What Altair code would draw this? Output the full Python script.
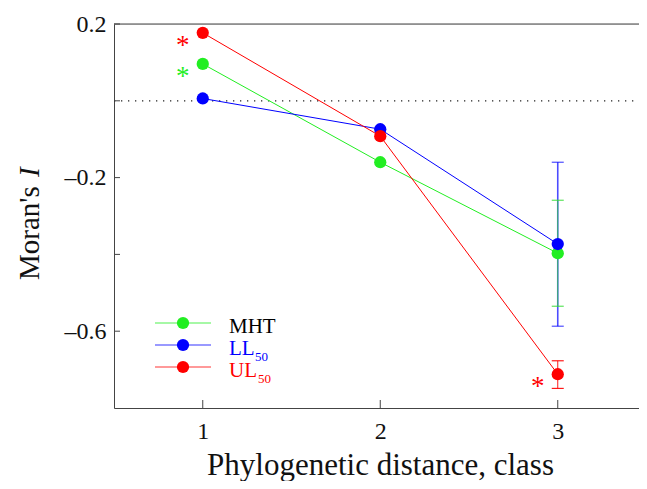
import altair as alt
import pandas as pd

# ---- data ----
classes = [1, 2, 3]
series_names = ["MHT", "LL50", "UL50"]
series_colors = ["#22ee22", "#0000ff", "#ff0000"]
mht = [0.096, -0.160, -0.397]
ll50 = [0.006, -0.074, -0.373]
ul50 = [0.177, -0.092, -0.712]

# error bars at class 3
err_class = [3, 3, 3]
err_series = ["MHT", "LL50", "UL50"]
err_lo = [-0.535, -0.587, -0.749]
err_hi = [-0.259, -0.160, -0.677]

# significance asterisks
sig_class = [1, 1, 3]
sig_series = ["MHT", "UL50", "UL50"]

ytick_vals = [0.2, 0.0, -0.2, -0.4, -0.6]
ylabel_vals = [0.2, -0.2, -0.6]
xtick_vals = [1, 2, 3]

legend_main = ["MHT", "LL", "UL"]
legend_sub = ["", "50", "50"]
legend_text_colors = ["#000000", "#0000ff", "#ff0000"]

W, H = 525, 384
FONT = "Liberation Serif"

rows = []
for name, vals in zip(series_names, [mht, ll50, ul50]):
    for c, v in zip(classes, vals):
        rows.append({"cls": c, "I": v, "series": name})
df = pd.DataFrame(rows)
err_df = pd.DataFrame({"cls": err_class, "lo": err_lo, "hi": err_hi, "series": err_series})
sig_df = df.merge(pd.DataFrame({"cls": sig_class, "series": sig_series}), on=["cls", "series"])

xscale = alt.Scale(domain=[0.5, 0.5 + W / 177.5], nice=False, zero=False)
yscale = alt.Scale(domain=[-0.8, 0.2], nice=False, zero=False)
xaxis = alt.Axis(values=xtick_vals, ticks=False, grid=False, labelFontSize=24, labelFont=FONT,
                 labelPadding=11, labelColor="#111", domainColor="#444", title="Phylogenetic distance, class",
                 titleFont=FONT, titleFontSize=31, titleFontWeight="normal", titleColor="#111",
                 titleX=266, titleY=66, titleBaseline="alphabetic", titleAnchor="middle", labelFlush=False)
yaxis = alt.Axis(values=ylabel_vals, ticks=False, grid=False, labelFontSize=24, labelFont=FONT,
                 labelPadding=8, labelColor="#111", domainColor="#444", title=None,
                 labelExpr="(datum.value < 0 ? '\u2013' : '') + format(abs(datum.value), '.1f')")

def X(f):
    return alt.X(f, type="quantitative", scale=xscale, axis=xaxis)

def Y(f):
    return alt.Y(f, type="quantitative", scale=yscale, axis=yaxis)

cscale = alt.Scale(domain=series_names, range=series_colors)
color = alt.Color("series:N", scale=cscale, legend=None)

top = alt.Chart(pd.DataFrame({"v": [0.2]})).mark_rule(color="#444", strokeWidth=1).encode(
    y=Y("v"), x=alt.value(0), x2=alt.value(W))
zero = alt.Chart(pd.DataFrame({"v": [0.0]})).mark_rule(color="#222", strokeWidth=1.3, strokeDash=[1.3, 5.7]).encode(
    y=Y("v"), x=alt.value(0), x2=alt.value(W))
yt = alt.Chart(pd.DataFrame({"v": ytick_vals})).mark_rule(color="#444").encode(
    y=Y("v"), x=alt.value(0), x2=alt.value(6))
xt = alt.Chart(pd.DataFrame({"v": xtick_vals})).mark_rule(color="#444").encode(
    x=X("v"), y=alt.value(H), y2=alt.value(H - 8))

err_base = alt.Chart(err_df)
err_layers = []
for name, col, sw, op in [("LL50", "#0000ff", 1.6, 0.7), ("MHT", "#33dd33", 1.0, 0.8), ("UL50", "#ff0000", 1.0, 0.9)]:
    b = err_base.transform_filter(alt.datum.series == name)
    err_layers.append(b.mark_rule(color=col, strokeWidth=sw, opacity=op).encode(x=X("cls"), y=Y("lo"), y2="hi"))
    err_layers.append(b.mark_tick(color=col, orient="horizontal", size=12, thickness=1.2, opacity=op).encode(x=X("cls"), y=Y("lo")))
    err_layers.append(b.mark_tick(color=col, orient="horizontal", size=12, thickness=1.2, opacity=op).encode(x=X("cls"), y=Y("hi")))

lines = alt.Chart(df).mark_line(strokeWidth=1).encode(x=X("cls"), y=Y("I"), color=color, detail="series:N")
pts = alt.Chart(df).mark_circle(size=150, opacity=1).encode(x=X("cls"), y=Y("I"), color=color)
stars = alt.Chart(sig_df).mark_text(text="*", fontSize=27, font=FONT, dx=-20, dy=21, baseline="alphabetic").encode(
    x=X("cls"), y=Y("I"), color=color)

# legend
leg = []
for i, (lab, sub, tcol, pcol) in enumerate(zip(legend_main, legend_sub, legend_text_colors, series_colors)):
    ly = 299 + 22 * i
    leg.append(alt.Chart(pd.DataFrame({"a": [0]})).mark_rule(color=pcol, strokeWidth=1, opacity=0.8).encode(
        x=alt.value(41), x2=alt.value(97), y=alt.value(ly)))
    leg.append(alt.Chart(pd.DataFrame({"a": [0]})).mark_circle(size=150, opacity=1, color=pcol).encode(
        x=alt.value(69), y=alt.value(ly)))
    leg.append(alt.Chart(pd.DataFrame({"a": [0]})).mark_text(text=lab, fontSize=21, font=FONT, align="left",
                                                              baseline="alphabetic", color=tcol).encode(
        x=alt.value(115), y=alt.value(ly + 10)))
    if sub:
        sx = 115 + (26 if lab == "LL" else 29)
        leg.append(alt.Chart(pd.DataFrame({"a": [0]})).mark_text(text=sub, fontSize=13, font=FONT, align="left",
                                                                  baseline="alphabetic", color=tcol).encode(
            x=alt.value(sx), y=alt.value(ly + 16)))

# y title with italic I
yt1 = alt.Chart(pd.DataFrame({"a": [0]})).mark_text(text="Moran's", fontSize=29, font=FONT, angle=270,
                                                     align="left", baseline="middle", color="#111").encode(
    x=alt.value(-84), y=alt.value(256))
yt2 = alt.Chart(pd.DataFrame({"a": [0]})).mark_text(text="I", fontSize=29, font=FONT, fontStyle="italic", angle=270,
                                                     align="left", baseline="middle", color="#111").encode(
    x=alt.value(-84), y=alt.value(153))

chart = alt.layer(top, zero, yt, xt, *err_layers, lines, pts, stars, *leg, yt1, yt2).properties(
    width=W, height=H, autosize=alt.AutoSizeParams(type="none"),
    padding={"left": 106, "top": 16, "right": 0, "bottom": 73},
).configure_view(stroke=None).configure_axis(
    labelFont=FONT, titleFont=FONT
).configure(background="white", font=FONT)

chart.save("out.html", embed_options={"renderer": "svg", "actions": False})
